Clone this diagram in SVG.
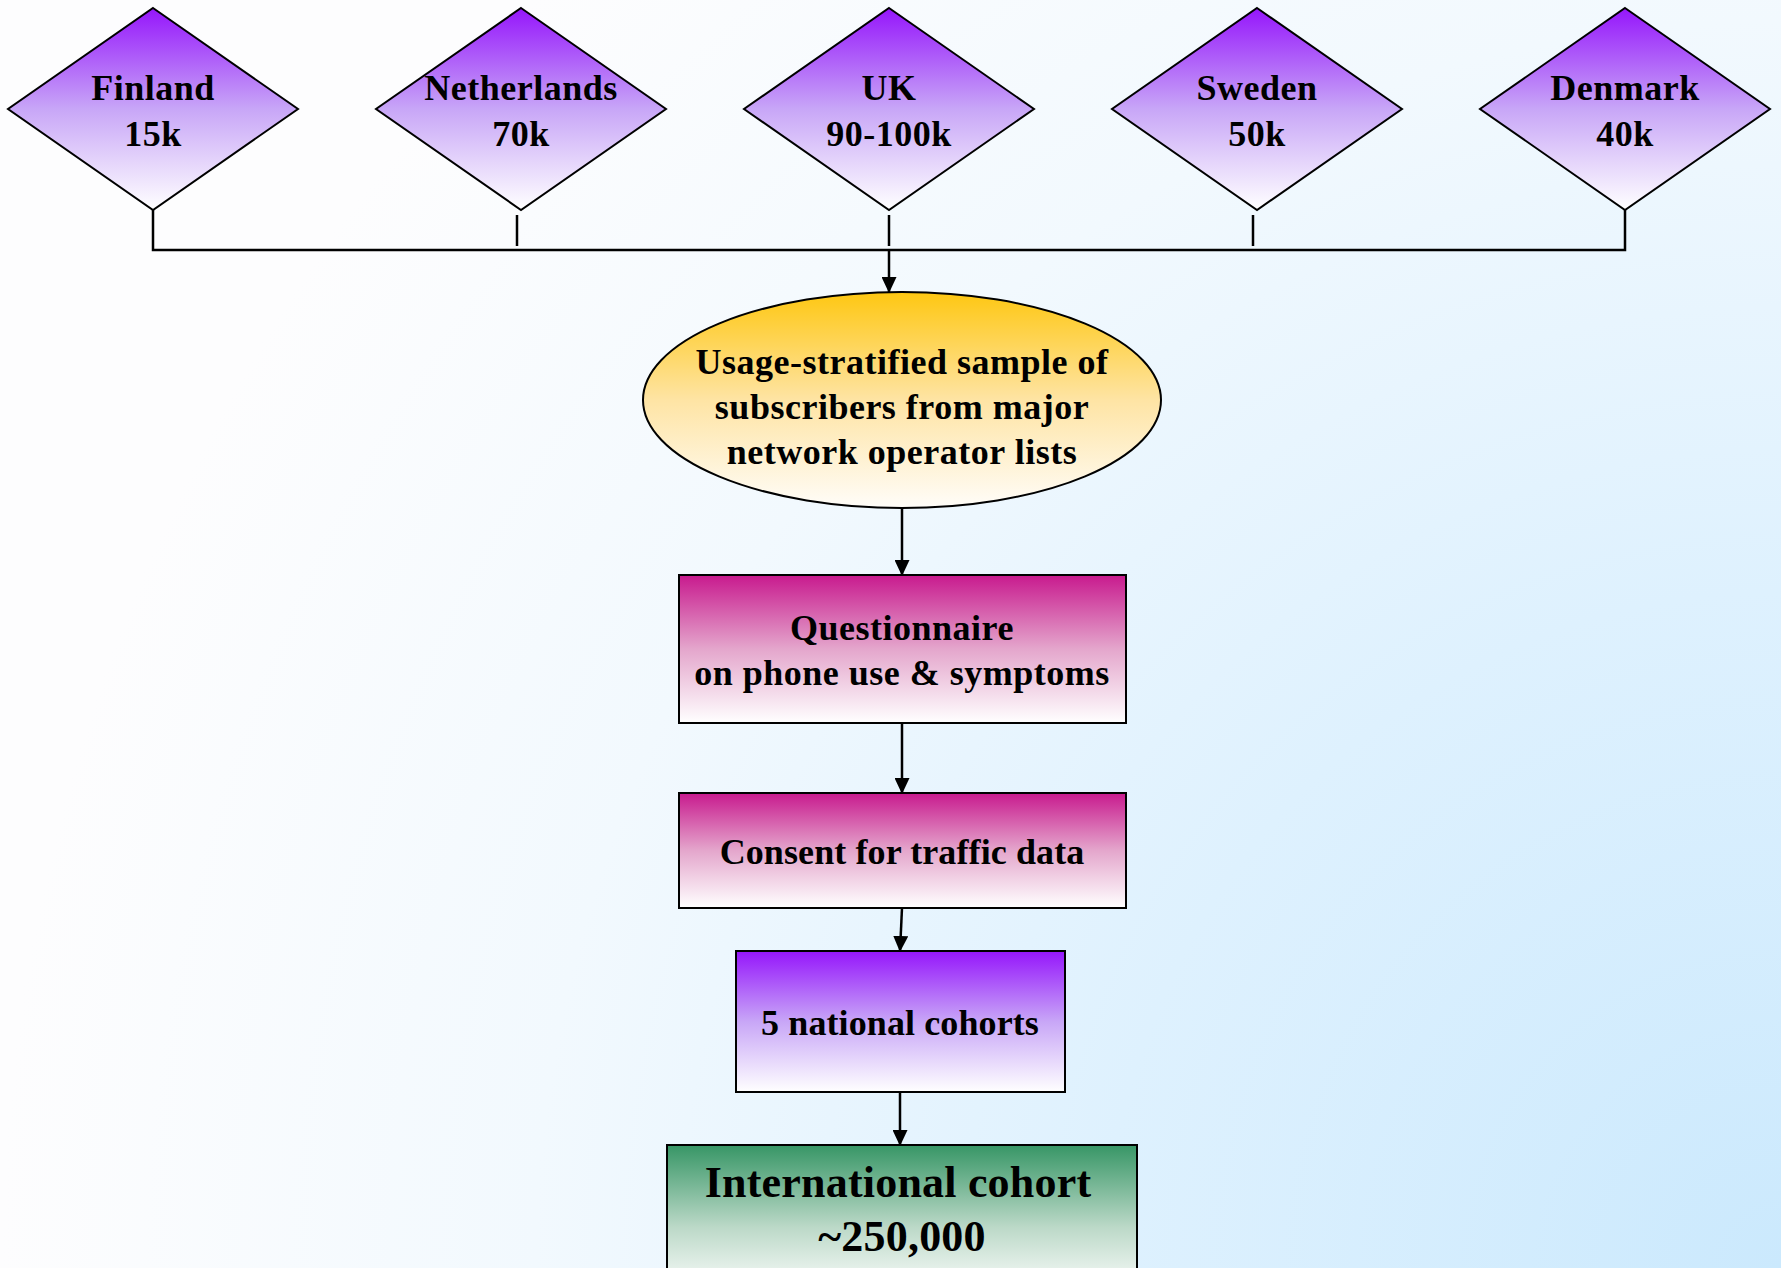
<svg xmlns="http://www.w3.org/2000/svg" width="1781" height="1268" viewBox="0 0 1781 1268">
  <defs>
    <radialGradient id="bg" gradientUnits="userSpaceOnUse" cx="1781" cy="1268" r="1780">
      <stop offset="0" stop-color="#cbe9fd"/>
      <stop offset="0.38" stop-color="#def1fe"/>
      <stop offset="0.7" stop-color="#f2f9fe"/>
      <stop offset="1" stop-color="#fdfdfe"/>
    </radialGradient>
    <linearGradient id="purple" x1="0" y1="0" x2="0" y2="1">
      <stop offset="0" stop-color="#9516fb"/>
      <stop offset="0.5" stop-color="#c8a6f7"/>
      <stop offset="1" stop-color="#ffffff"/>
    </linearGradient>
    <linearGradient id="gold" x1="0" y1="0" x2="0" y2="1">
      <stop offset="0" stop-color="#fec712"/>
      <stop offset="0.5" stop-color="#fee4a4"/>
      <stop offset="1" stop-color="#fffdf9"/>
    </linearGradient>
    <linearGradient id="magenta" x1="0" y1="0" x2="0" y2="1">
      <stop offset="0" stop-color="#c81a8e"/>
      <stop offset="0.5" stop-color="#e4a6cc"/>
      <stop offset="1" stop-color="#ffffff"/>
    </linearGradient>
    <linearGradient id="green" x1="0" y1="0" x2="0" y2="1">
      <stop offset="0" stop-color="#379666"/>
      <stop offset="0.55" stop-color="#bcd9c8"/>
      <stop offset="1" stop-color="#ffffff"/>
    </linearGradient>
    <marker id="arrow" markerWidth="16" markerHeight="15" refX="15" refY="7.5" orient="auto" markerUnits="userSpaceOnUse">
      <path d="M0,0 L16,7.5 L0,15 Z" fill="#000"/>
    </marker>
    <style>
      .shape { stroke: #000; stroke-width: 2; }
      .lbl { font-family: "Liberation Serif", "DejaVu Serif", serif; font-weight: bold; font-size: 36px; fill: #000; text-anchor: middle; letter-spacing: 0.5px; }
      .big { font-size: 44px; letter-spacing: 0.2px; }
      .tight { letter-spacing: 0.1px; }
      .conn { stroke: #000; stroke-width: 2.5; fill: none; }
    </style>
  </defs>

  <rect x="0" y="0" width="1781" height="1268" fill="url(#bg)"/>

  <g id="connectors">
    <polyline class="conn" points="153,210 153,250 1625,250 1625,210"/>
    <line class="conn" x1="517" y1="215" x2="517" y2="246"/>
    <line class="conn" x1="889" y1="215" x2="889" y2="246"/>
    <line class="conn" x1="1253" y1="215" x2="1253" y2="246"/>
    <line class="conn" x1="889" y1="250" x2="889" y2="292" marker-end="url(#arrow)"/>
    <line class="conn" x1="902" y1="509" x2="902" y2="575" marker-end="url(#arrow)"/>
    <line class="conn" x1="902" y1="723" x2="902" y2="793" marker-end="url(#arrow)"/>
    <line class="conn" x1="902" y1="908" x2="900" y2="951" marker-end="url(#arrow)"/>
    <line class="conn" x1="900" y1="1092" x2="900" y2="1145" marker-end="url(#arrow)"/>
  </g>

  <g id="finland">
    <polygon class="shape" fill="url(#purple)" points="153,8 298,109 153,210 8,109"/>
    <text class="lbl" x="153" y="100">Finland</text>
    <text class="lbl" x="153" y="146">15k</text>
  </g>
  <g id="netherlands">
    <polygon class="shape" fill="url(#purple)" points="521,8 666,109 521,210 376,109"/>
    <text class="lbl" x="521" y="100">Netherlands</text>
    <text class="lbl" x="521" y="146">70k</text>
  </g>
  <g id="uk">
    <polygon class="shape" fill="url(#purple)" points="889,8 1034,109 889,210 744,109"/>
    <text class="lbl" x="889" y="100">UK</text>
    <text class="lbl" x="889" y="146">90-100k</text>
  </g>
  <g id="sweden">
    <polygon class="shape" fill="url(#purple)" points="1257,8 1402,109 1257,210 1112,109"/>
    <text class="lbl" x="1257" y="100">Sweden</text>
    <text class="lbl" x="1257" y="146">50k</text>
  </g>
  <g id="denmark">
    <polygon class="shape" fill="url(#purple)" points="1625,8 1770,109 1625,210 1480,109"/>
    <text class="lbl" x="1625" y="100">Denmark</text>
    <text class="lbl" x="1625" y="146">40k</text>
  </g>

  <g id="sample">
    <ellipse class="shape" fill="url(#gold)" cx="902" cy="400" rx="259" ry="108"/>
    <text class="lbl" x="902" y="374">Usage-stratified sample of</text>
    <text class="lbl" x="902" y="419">subscribers from major</text>
    <text class="lbl" x="902" y="464">network operator lists</text>
  </g>

  <g id="questionnaire">
    <rect class="shape" fill="url(#magenta)" x="679" y="575" width="447" height="148"/>
    <text class="lbl" x="902" y="640">Questionnaire</text>
    <text class="lbl" x="902" y="685">on phone use &amp; symptoms</text>
  </g>

  <g id="consent">
    <rect class="shape" fill="url(#magenta)" x="679" y="793" width="447" height="115"/>
    <text class="lbl tight" x="902" y="864">Consent for traffic data</text>
  </g>

  <g id="national">
    <rect class="shape" fill="url(#purple)" x="736" y="951" width="329" height="141"/>
    <text class="lbl tight" x="900" y="1035">5 national cohorts</text>
  </g>

  <g id="international">
    <rect class="shape" fill="url(#green)" x="667" y="1145" width="470" height="150"/>
    <text class="lbl big" x="898" y="1197">International cohort</text>
    <text class="lbl big" x="902" y="1251">~250,000</text>
  </g>
</svg>
